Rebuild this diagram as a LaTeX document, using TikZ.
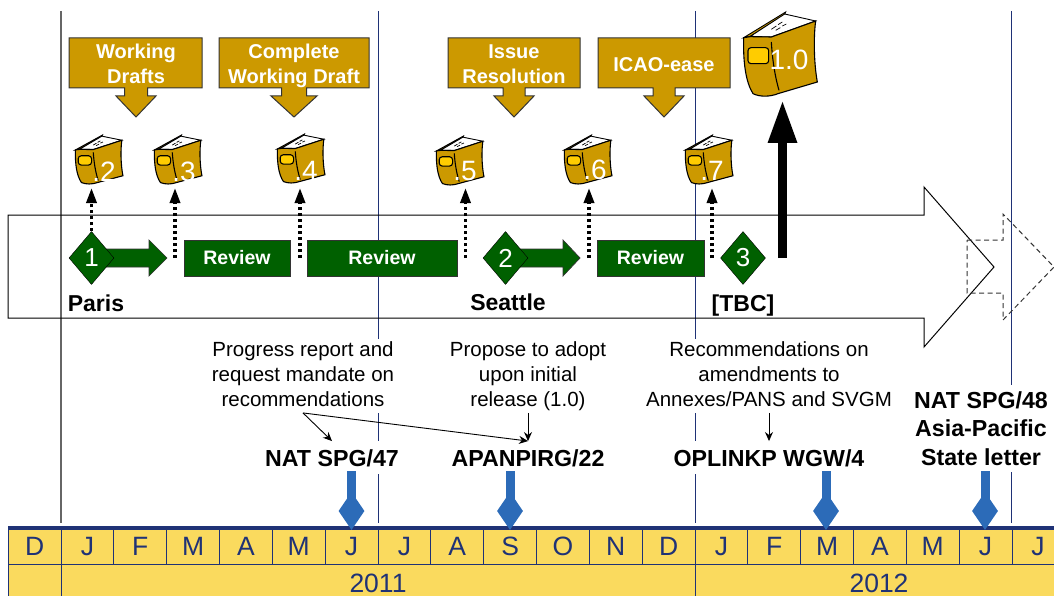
\documentclass[tikz,border=0pt]{standalone}
\usepackage{fontspec}
\setmainfont{Liberation Sans}
\usetikzlibrary{arrows.meta,shapes.geometric}

\definecolor{gold}{RGB}{204,153,0}
\definecolor{labelyellow}{RGB}{255,204,0}
\definecolor{darkgreen}{RGB}{0,96,0}
\definecolor{pinblue}{RGB}{44,107,184}
\definecolor{calyellow}{RGB}{250,218,94}
\definecolor{calblue}{RGB}{31,50,118}

\tikzset{
	gridline/.style = {draw=calblue, line width=1},
	outline/.style = {draw=black, line width=1},
	calloutshape/.style = {draw=black!80, fill=gold, line width=1},
	callouttext/.style = {text=white, align=center, inner sep=0pt, font=\bfseries\fontsize{20}{25}\selectfont},
	reviewbox/.style = {draw=black!80, fill=darkgreen, text=white, inner sep=0pt, minimum height=36, font=\bfseries\fontsize{19.5}{24}\selectfont},
	meetdiamond/.style = {shape=diamond, draw=black, fill=darkgreen, text=white, inner sep=0pt, minimum width=45, minimum height=53, font=\fontsize{26}{30}\selectfont},
	greenarrow/.style = {draw=black!80, fill=darkgreen, line width=0.7},
	place/.style = {inner sep=0pt, font=\bfseries\fontsize{23}{28}\selectfont},
	booktext/.style = {text=white, inner sep=0pt, font=\fontsize{28}{32}\selectfont},
	dotarrow/.style = {line width=3.3, dash pattern=on 3pt off 3pt, -{Triangle[length=15pt,width=10pt]}},
	bigarrow/.style = {line width=9, -{Triangle[length=43pt,width=27pt]}},
	thinarrow/.style = {line width=0.9, -{Stealth[length=9pt,width=8pt]}},
	note/.style = {fill=white, align=center, inner xsep=3.3pt, inner ysep=2.5pt, font=\fontsize{20.5}{24.7}\selectfont},
	meeting/.style = {fill=white, align=center, text height=17pt, text depth=0pt, inner xsep=0pt, inner ysep=7.75pt, font=\bfseries\fontsize{23.2}{28}\selectfont},
	pinstem/.style = {draw=pinblue, line width=9},
	pinhead/.style = {shape=diamond, fill=pinblue, inner sep=0pt, minimum width=26, minimum height=38},
	monthcell/.style = {draw=calblue, fill=calyellow, text=calblue, line width=0.9, inner sep=0pt, minimum height=35, font=\fontsize{26.5}{30}\selectfont},
	yearcell/.style = {draw=calblue, fill=calyellow, text=calblue, line width=0.9, inner sep=0pt, minimum height=33, font=\fontsize{26.5}{30}\selectfont},
	pics/bookicon/.style = {code = {
		\draw[fill=gold, line width=0.9] (2,77) -- (128,0) -- (125,8) -- (22,73) -- cycle;
		\draw[fill=white, line width=0.9] (22,73) -- (125,6) -- (218,27) -- (85,75) -- cycle;
		\draw[fill=gold, line width=1.1] (2,77) -- (22,74) -- (85,75) -- (218,27) .. controls (212,70) and (212,150) .. (223,210) -- (105,245) .. controls (80,255) and (50,255) .. (30,245) .. controls (8,210) and (0,150) .. (2,77) -- cycle;
		\draw[line width=1.1] (85,90) .. controls (88,140) and (95,190) .. (108,235);
		\draw[fill=labelyellow, line width=1.1, rounded corners=3pt] (15,107) rectangle (77,155);
		\draw[line width=0.7] (85,52) -- (100,42) (105,38) -- (118,30) (98,55) -- (112,47) (118,42) -- (130,36);
	}}
}

\newcommand{\calloutbox}[8]{
	\draw[calloutshape] (#1,38) -- (#2,38) -- (#2,88) -- ({#3+#4},88) -- ({#3+#4},96) -- ({#3+#5},96) -- (#3,117) -- ({#3-#5},96) -- ({#3-#4},96) -- ({#3-#4},88) -- (#1,88) -- cycle;
	\node[callouttext] (#6) at (#3,#7) {#8};
}

\begin{document}
\begin{tikzpicture}[x=1pt,y=-1pt]
	\useasboundingbox (0,0) rectangle (1054,596);

	\coordinate (lineAtop) at (61,11);
	\coordinate (lineAend) at (61,523);
	\coordinate (lineBtop) at (378,11);
	\coordinate (lineBend) at (378,523);
	\coordinate (lineCtop) at (695,11);
	\coordinate (lineCend) at (695,523);
	\coordinate (lineDtop) at (1011.5,11);
	\coordinate (lineDend) at (1011.5,523);
	\draw[draw=black!60, line width=1.5] (lineAtop) -- (lineAend);
	\draw[gridline] (lineBtop) -- (lineBend);
	\draw[gridline] (lineCtop) -- (lineCend);
	\draw[gridline] (lineDtop) -- (lineDend);

	\draw[outline] (8,215) -- (924,215) -- (924,187) -- (994,267) -- (924,347) -- (924,318) -- (8,318) -- cycle;
	\draw[draw=black!80, line width=1, dash pattern=on 5pt off 3.5pt] (967,240) -- (1003,240) -- (1003,214) -- (1054,267) -- (1003,320) -- (1003,293) -- (967,293) -- cycle;

	\calloutbox{69}{202}{136}{11.5}{20}{calloutA}{64}{Working\\Drafts}
	\calloutbox{219}{369}{294}{12.5}{23}{calloutB}{66}{Complete\\Working Draft}
	\calloutbox{448}{580}{514}{11}{20}{calloutC}{64}{Issue\\Resolution}
	\calloutbox{598}{730}{664}{11}{20}{calloutD}{65}{ICAO-ease}

	\pic[xscale=0.215,yscale=0.194] at (75,135) {bookicon};
	\pic[xscale=0.215,yscale=0.194] at (154,135) {bookicon};
	\pic[xscale=0.215,yscale=0.194] at (277,134) {bookicon};
	\pic[xscale=0.215,yscale=0.194] at (436,136) {bookicon};
	\pic[xscale=0.215,yscale=0.194] at (564,135) {bookicon};
	\pic[xscale=0.215,yscale=0.194] at (685,135) {bookicon};
	\pic[xscale=0.3333,yscale=0.3333] at (743,12) {bookicon};
	\node[booktext] (bookA) at (104,172) {.2};
	\node[booktext] (bookB) at (184,172) {.3};
	\node[booktext] (bookC) at (306,171) {.4};
	\node[booktext] (bookD) at (465,171) {.5};
	\node[booktext] (bookE) at (595,170) {.6};
	\node[booktext] (bookF) at (712,171) {.7};
	\node[booktext] (bookG) at (789,60) {1.0};

	\draw[greenarrow] (105,249) -- (149,249) -- (149,240) -- (167,258) -- (149,276) -- (149,267) -- (105,267) -- cycle;
	\draw[greenarrow] (520,249) -- (563,249) -- (563,240) -- (580,258) -- (563,276) -- (563,267) -- (520,267) -- cycle;
	\node[meetdiamond] (meetA) at (91.5,258) {1};
	\node[meetdiamond] (meetB) at (505.5,258) {2};
	\node[meetdiamond] (meetC) at (743,258) {3};
	\node[reviewbox, minimum width=106] (reviewA) at (237,258) {Review};
	\node[reviewbox, minimum width=150] (reviewB) at (382,258) {Review};
	\node[reviewbox, minimum width=107] (reviewC) at (650.5,258) {Review};
	\node[place] (paris) at (96,303) {Paris};
	\node[place] (seattle) at (508,302.5) {Seattle};
	\node[place] (tbc) at (743,305.5) {[TBC]};

	\coordinate (tipA) at (91.5,188);
	\coordinate (startB) at (175,258);
	\coordinate (tipB) at (175,188);
	\coordinate (startC) at (300,258);
	\coordinate (tipC) at (300,188);
	\coordinate (startD) at (465.5,258);
	\coordinate (tipD) at (465.5,188);
	\coordinate (startE) at (589,258);
	\coordinate (tipE) at (589,188);
	\coordinate (startF) at (712,258);
	\coordinate (tipF) at (712,188);
	\coordinate (startG) at (782.5,258);
	\coordinate (tipG) at (782.5,100);
	\draw[dotarrow] (meetA.north) -- (tipA);
	\draw[dotarrow] (startB) -- (tipB);
	\draw[dotarrow] (startC) -- (tipC);
	\draw[dotarrow] (startD) -- (tipD);
	\draw[dotarrow] (startE) -- (tipE);
	\draw[dotarrow] (startF) -- (tipF);
	\draw[bigarrow] (startG) -- (tipG);

	\node[note] (progress) at (303,376) {Progress report and\\request mandate on\\recommendations\vphantom{)}};
	\node[note] (propose) at (528,376) {Propose to adopt\\upon initial\\release (1.0)};
	\node[note] (amend) at (769,376) {Recommendations on\\amendments to\\Annexes/PANS and SVGM\vphantom{)}};
	\node[meeting] (natA) at (332,457.5) {NAT SPG/47};
	\node[meeting] (apan) at (528,457.5) {APANPIRG/22};
	\node[meeting] (oplink) at (769,457.5) {OPLINKP WGW/4};
	\node[fill=white, align=center, inner xsep=0pt, inner ysep=6pt, font=\bfseries\fontsize{23.2}{28.5}\selectfont] (natB) at (981,428.5) {NAT SPG/48\\Asia-Pacific\\State letter};
	\draw[thinarrow] (progress.south) -- (natA.north);
	\draw[thinarrow] (progress.south) -- (apan.north);
	\draw[thinarrow] (propose.south) -- (apan.north);
	\draw[thinarrow] (amend.south) -- (oplink.north);

	\node[monthcell, minimum width=52.83] (mA) at (34.6,546.5) {D};
	\node[monthcell, minimum width=52.83] (mB) at (87.4,546.5) {J};
	\node[monthcell, minimum width=52.83] (mC) at (140.2,546.5) {F};
	\node[monthcell, minimum width=52.83] (mD) at (193.1,546.5) {M};
	\node[monthcell, minimum width=52.83] (mE) at (245.9,546.5) {A};
	\node[monthcell, minimum width=52.83] (mF) at (298.7,546.5) {M};
	\node[monthcell, minimum width=52.83] (mG) at (351.6,546.5) {J};
	\node[monthcell, minimum width=52.83] (mH) at (404.4,546.5) {J};
	\node[monthcell, minimum width=52.83] (mI) at (457.2,546.5) {A};
	\node[monthcell, minimum width=52.83] (mJ) at (510.1,546.5) {S};
	\node[monthcell, minimum width=52.83] (mK) at (562.9,546.5) {O};
	\node[monthcell, minimum width=52.83] (mL) at (615.7,546.5) {N};
	\node[monthcell, minimum width=52.83] (mM) at (668.6,546.5) {D};
	\node[monthcell, minimum width=52.83] (mN) at (721.4,546.5) {J};
	\node[monthcell, minimum width=52.83] (mO) at (774.2,546.5) {F};
	\node[monthcell, minimum width=52.83] (mP) at (827.1,546.5) {M};
	\node[monthcell, minimum width=52.83] (mQ) at (879.9,546.5) {A};
	\node[monthcell, minimum width=52.83] (mR) at (932.7,546.5) {M};
	\node[monthcell, minimum width=52.83] (mS) at (985.6,546.5) {J};
	\node[monthcell, minimum width=43] (mT) at (1033.5,546.5) {\hspace*{9pt}J};
	\node[yearcell, minimum width=52.83] (yA) at (34.6,580.5) {};
	\node[yearcell, minimum width=634] (yB) at (378,580.5) {\rule{0pt}{24pt}2011};
	\node[yearcell, minimum width=360] (yC) at (875,580.5) {\hspace*{8pt}\rule{0pt}{24pt}2012};
	\coordinate (ruleL) at (8,527.5);
	\coordinate (ruleR) at (1054,527.5);
	\draw[draw=calblue, line width=3] (ruleL) -- (ruleR);

	\coordinate (stemA) at (351.5,471);
	\coordinate (stemB) at (510,471);
	\coordinate (stemC) at (826,471);
	\coordinate (stemD) at (985,471);
	\node[pinhead] (pinA) at (351.5,511) {};
	\node[pinhead] (pinB) at (510,511) {};
	\node[pinhead] (pinC) at (826,511) {};
	\node[pinhead] (pinD) at (985,511) {};
	\draw[pinstem] (stemA) -- (pinA.center);
	\draw[pinstem] (stemB) -- (pinB.center);
	\draw[pinstem] (stemC) -- (pinC.center);
	\draw[pinstem] (stemD) -- (pinD.center);
\end{tikzpicture}
\end{document}
